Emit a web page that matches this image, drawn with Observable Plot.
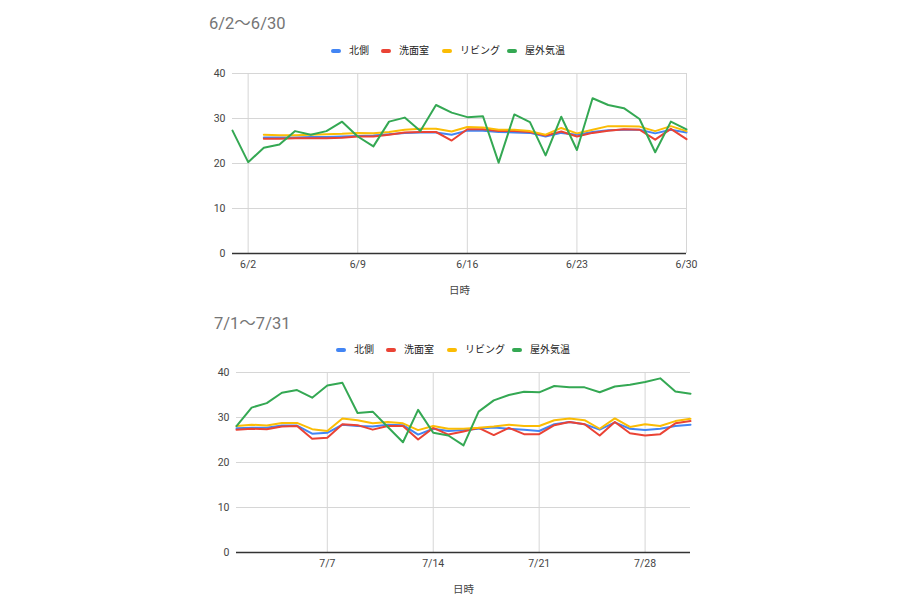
<!DOCTYPE html>
<html><head><meta charset="utf-8">
<script src="https://cdn.jsdelivr.net/npm/d3@7"></script>
<script src="https://cdn.jsdelivr.net/npm/@observablehq/plot@0.6"></script>
<style>
body{margin:0;background:#fff;font-family:Roboto,"Noto Sans CJK JP",sans-serif;}
#root{position:relative;width:900px;height:600px;overflow:hidden;background:#fff;}
.title{position:absolute;font-size:16.5px;line-height:1;color:#757575;white-space:nowrap;}
.legend{position:absolute;display:flex;align-items:center;font-size:10px;line-height:1;color:#222;white-space:nowrap;}
.item{display:flex;align-items:center;}
.sw{width:10px;height:4px;border-radius:2px;margin-right:8px;flex:none;}
.chart{position:absolute;left:0;}
</style></head>
<body><div id="root"></div>
<script>
// ---- data ----
const seriesNames = ["北側", "洗面室", "リビング", "屋外気温"];
const seriesColors = ["#4285F4", "#EA4335", "#FBBC04", "#34A853"];

const juneTitle = "6/2〜6/30";
const juneStart = "2023-06-01"; // first day of outdoor data
const juneIndoorStart = "2023-06-03";
const juneTicks = ["2023-06-02", "2023-06-09", "2023-06-16", "2023-06-23", "2023-06-30"];
const juneDomain = ["2023-06-01", "2023-06-30"];
const juneNorth = [25.8, 25.8, 25.8, 25.9, 25.9, 26.0, 26.1, 26.2, 26.5, 26.8, 26.9, 26.9, 26.4, 27.3, 27.3, 27.0, 26.9, 26.8, 26.0, 26.8, 26.4, 27.0, 27.4, 27.5, 27.5, 26.7, 27.5, 26.9];
const juneWash = [25.5, 25.5, 25.6, 25.6, 25.6, 25.7, 26.0, 26.0, 26.4, 26.9, 27.0, 27.0, 25.1, 27.6, 27.6, 27.2, 27.2, 27.0, 26.2, 27.1, 26.0, 26.8, 27.3, 27.6, 27.5, 25.3, 27.7, 25.4];
const juneLiving = [26.4, 26.3, 26.3, 26.4, 26.5, 26.6, 26.8, 26.7, 27.0, 27.5, 27.7, 27.7, 27.1, 28.1, 28.0, 27.5, 27.5, 27.2, 26.4, 27.9, 26.7, 27.5, 28.3, 28.3, 28.2, 27.2, 28.3, 27.2];
const juneOutdoor = [27.3, 20.3, 23.5, 24.2, 27.2, 26.4, 27.2, 29.3, 26.0, 23.8, 29.3, 30.2, 27.2, 33.0, 31.3, 30.3, 30.5, 20.2, 30.9, 29.2, 21.8, 30.4, 23.0, 34.5, 33.0, 32.3, 29.9, 22.5, 29.3, 27.6];

const julyTitle = "7/1〜7/31";
const julyStart = "2023-07-01";
const julyIndoorStart = "2023-07-01";
const julyTicks = ["2023-07-07", "2023-07-14", "2023-07-21", "2023-07-28"];
const julyDomain = ["2023-07-01", "2023-07-31"];
const julyNorth = [27.6, 27.7, 27.7, 28.2, 28.2, 26.4, 26.6, 28.4, 28.1, 28.0, 28.4, 28.3, 26.2, 27.5, 27.0, 27.2, 27.5, 27.8, 27.5, 27.3, 27.0, 28.5, 29.0, 28.5, 27.3, 28.9, 27.5, 27.2, 27.5, 28.1, 28.4];
const julyWash = [27.3, 27.5, 27.4, 28.0, 28.1, 25.3, 25.5, 28.5, 28.3, 27.3, 28.1, 28.1, 25.1, 27.7, 26.2, 26.9, 27.7, 26.1, 27.7, 26.3, 26.3, 28.3, 29.0, 28.5, 26.0, 29.0, 26.5, 26.0, 26.3, 28.7, 29.2];
const julyLiving = [28.1, 28.4, 28.2, 28.8, 28.8, 27.4, 27.0, 29.8, 29.4, 28.7, 29.0, 28.7, 27.2, 28.1, 27.5, 27.5, 27.7, 28.0, 28.4, 28.1, 28.1, 29.4, 29.8, 29.4, 27.5, 29.8, 27.9, 28.5, 28.1, 29.2, 29.7];
const julyOutdoor = [28.1, 32.2, 33.2, 35.5, 36.1, 34.4, 37.1, 37.7, 31.0, 31.3, 27.9, 24.5, 31.7, 26.6, 26.0, 23.8, 31.3, 33.8, 35.0, 35.7, 35.6, 37.0, 36.7, 36.7, 35.6, 36.9, 37.3, 37.9, 38.7, 35.8, 35.3];

const yTicks = [0, 10, 20, 30, 40];
const xLabel = "日時";

// ---- helpers ----
const parse = s => new Date(s + "T00:00:00Z");
const fmt = d3.utcFormat("%-m/%-d");

function rowsFor(name, startStr, values) {
  const s = parse(startStr);
  return values.map((v, i) => ({series: name, date: d3.utcDay.offset(s, i), value: v}));
}

function addTitle(root, text, left, top) {
  const t = document.createElement("div");
  t.className = "title"; t.textContent = text;
  t.style.left = left + "px"; t.style.top = top + "px";
  root.appendChild(t);
}
const legendItemWidths = [50, 61, 65, 60];
function addLegend(root, left, top) {
  const lg = document.createElement("div");
  lg.className = "legend";
  lg.style.left = left + "px"; lg.style.top = top + "px";
  seriesNames.forEach((n, i) => {
    const it = document.createElement("div"); it.className = "item";
    it.style.width = legendItemWidths[i] + "px";
    const sw = document.createElement("div"); sw.className = "sw"; sw.style.background = seriesColors[i];
    const tx = document.createElement("span"); tx.textContent = n;
    it.appendChild(sw); it.appendChild(tx); lg.appendChild(it);
  });
  root.appendChild(lg);
}

function makeChart({rows, domain, ticks, top, marginLeft, marginRight, marginTop, marginBottom, height}) {
  const tickDates = ticks.map(parse);
  const svg = Plot.plot({
    width: 900, height, marginLeft, marginRight, marginTop, marginBottom,
    style: {fontSize: "10.5px", fontFamily: 'Roboto,"Noto Sans CJK JP",sans-serif', color: "#444", background: "transparent"},
    x: {type: "utc", domain: domain.map(parse)},
    y: {domain: [0, 40]},
    color: {domain: seriesNames, range: seriesColors},
    marks: [
      Plot.gridY([10, 20, 30, 40], {stroke: "#d6d6d6", strokeOpacity: 1, strokeWidth: 1}),
      Plot.gridX(tickDates, {stroke: "#d6d6d6", strokeOpacity: 1, strokeWidth: 1}),
      Plot.axisY(yTicks, {tickSize: 0, tickPadding: 7, label: null, fill: "#444"}),
      Plot.axisX(tickDates, {tickSize: 0, tickPadding: 7, tickFormat: fmt, fill: "#444",
        label: xLabel, labelAnchor: "center", labelArrow: "none", labelOffset: 40}),
      Plot.line(rows, {x: "date", y: "value", z: "series", stroke: "series", strokeWidth: 2, curve: "linear"}),
      Plot.ruleY([0], {stroke: "#333", strokeWidth: 1.5})
    ]
  });
  svg.classList.add("chart");
  svg.style.top = top + "px";
  return svg;
}

const root = document.getElementById("root");

const juneRows = [
  ...rowsFor("北側", juneIndoorStart, juneNorth),
  ...rowsFor("洗面室", juneIndoorStart, juneWash),
  ...rowsFor("リビング", juneIndoorStart, juneLiving),
  ...rowsFor("屋外気温", juneStart, juneOutdoor)
];
const julyRows = [
  ...rowsFor("北側", julyIndoorStart, julyNorth),
  ...rowsFor("洗面室", julyIndoorStart, julyWash),
  ...rowsFor("リビング", julyIndoorStart, julyLiving),
  ...rowsFor("屋外気温", julyStart, julyOutdoor)
];

addTitle(root, juneTitle, 209, 16);
addLegend(root, 331, 46);
root.appendChild(makeChart({rows: juneRows, domain: juneDomain, ticks: juneTicks, top: 60,
  marginLeft: 232, marginRight: 214, marginTop: 13, marginBottom: 47, height: 240}));

addTitle(root, julyTitle, 214, 316);
addLegend(root, 336, 345);
root.appendChild(makeChart({rows: julyRows, domain: julyDomain, ticks: julyTicks, top: 360,
  marginLeft: 236, marginRight: 210, marginTop: 12, marginBottom: 48, height: 240}));
</script>
</body></html>
